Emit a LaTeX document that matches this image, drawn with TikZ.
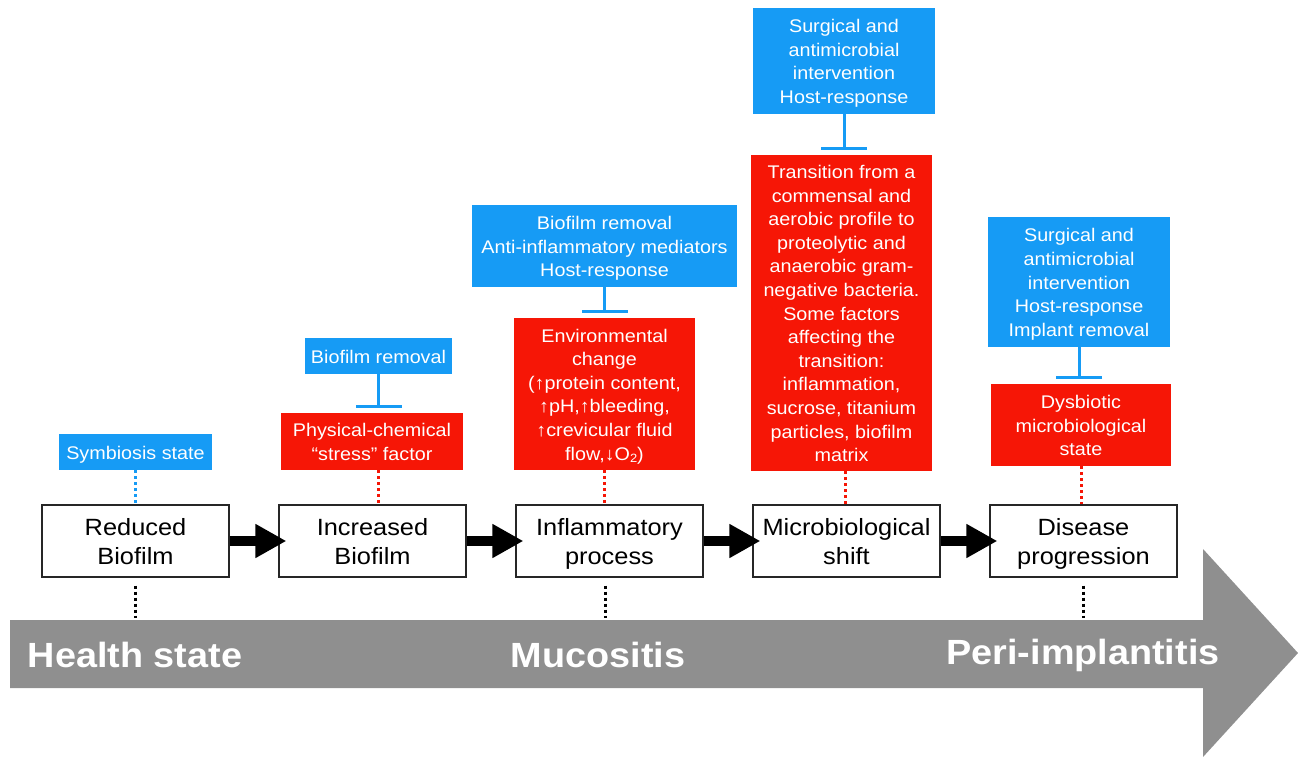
\documentclass[tikz,border=0pt]{standalone}
\usepackage{fontspec}
\setmainfont[FakeStretch=1.08]{Liberation Sans}
\usetikzlibrary{arrows.meta}
\definecolor{cblue}{RGB}{22,155,245}
\definecolor{cred}{RGB}{246,22,6}
\definecolor{cgray}{RGB}{143,143,143}
\newcommand{\firststrut}{\rule{0pt}{1.0em}}
\begin{document}
\begin{tikzpicture}[x=1pt,y=-1pt,
  struts/.style={execute at end node={\rule[-0.22em]{0pt}{0pt}}},
  stagebox/.style={struts, draw=black!85, line width=1.3pt, fill=white, minimum width=187pt, minimum height=72pt, align=center, inner sep=0pt, font=\fontsize{23.5}{28.5}\selectfont},
  bluebox/.style={struts, fill=cblue, text=white, align=center, inner sep=0pt, font=\fontsize{18.3}{23.6}\selectfont},
  redbox/.style={struts, fill=cred, text=white, align=center, inner sep=0pt, font=\fontsize{18.3}{23.6}\selectfont},
  phase/.style={text=white, font=\bfseries\fontsize{35}{40}\selectfont, inner sep=0pt},
  tbar/.style={draw=cblue, line width=3pt, -{Bar[width=46pt]}, shorten >=5pt},
  reddot/.style={draw=cred, line width=3pt, dash pattern=on 3pt off 3pt},
  bluedot/.style={draw=cblue, line width=3pt, dash pattern=on 3pt off 3pt},
  blackdot/.style={draw=black, line width=2.5pt, dash pattern=on 3pt off 3pt, shorten <=8pt, shorten >=2pt},
  bigarrow/.style={line width=10pt, -{Triangle[length=31pt,width=32pt]}, shorten >=-8pt}
]
\useasboundingbox (0,0) rectangle (1298,757);

% big gray timeline arrow
\fill[cgray] (10,620) -- (1203,620) -- (1203,549) -- (1298,653) -- (1203,757) -- (1203,688) -- (10,688) -- cycle;
\coordinate (bandtop) at (0,620);
\node[phase] (ph1) at (135,655) {Health state};
\node[phase] (ph2) at (598,655) {Mucositis};
\node[phase] (ph3) at (1083,655) {Peri-implantitis};

% stage boxes
\node[stagebox] (b1) at (135.5,541) {\firststrut Reduced\\Biofilm};
\node[stagebox] (b2) at (372.5,541) {\firststrut Increased\\Biofilm};
\node[stagebox] (b3) at (609.5,541) {\firststrut Inflammatory\\process};
\node[stagebox] (b4) at (846.5,541) {\firststrut Microbiological\\shift};
\node[stagebox] (b5) at (1083.5,541) {\firststrut Disease\\progression};

\draw[bigarrow] (b1.east) -- (b2.west);
\draw[bigarrow] (b2.east) -- (b3.west);
\draw[bigarrow] (b3.east) -- (b4.west);
\draw[bigarrow] (b4.east) -- (b5.west);

% blue boxes
\node[bluebox, minimum width=153pt, minimum height=36pt] (s1) at (135.5,452) {\firststrut Symbiosis state};
\node[bluebox, minimum width=147pt, minimum height=36pt] (s2) at (378.5,356) {\firststrut Biofilm removal};
\node[bluebox, minimum width=265pt, minimum height=82pt] (s3) at (604.5,246) {\firststrut Biofilm removal\\Anti-inflammatory mediators\\Host-response};
\node[bluebox, minimum width=182pt, minimum height=106pt] (s4) at (844,61) {\firststrut Surgical and\\antimicrobial\\intervention\\Host-response};
\node[bluebox, minimum width=182pt, minimum height=130pt] (s5) at (1079,282) {\firststrut Surgical and\\antimicrobial\\intervention\\Host-response\\Implant removal};

% red boxes
\node[redbox, minimum width=182pt, minimum height=57pt] (r2) at (372,441.5) {\firststrut Physical-chemical\\“stress” factor};
\node[redbox, minimum width=181pt, minimum height=152pt] (r3) at (604.5,394) {\firststrut Environmental\\change\\(↑protein content,\\↑pH,↑bleeding,\\↑crevicular fluid\\flow,↓O\raisebox{-2pt}{\fontsize{12}{12}\selectfont 2})};
\node[redbox, minimum width=181pt, minimum height=316pt] (r4) at (841.5,313) {\firststrut Transition from a\\commensal and\\aerobic profile to\\proteolytic and\\anaerobic gram-\\negative bacteria.\\Some factors\\affecting the\\transition:\\inflammation,\\sucrose, titanium\\particles, biofilm\\matrix};
\node[redbox, minimum width=180pt, minimum height=82pt] (r5) at (1081,425) {\firststrut Dysbiotic\\microbiological\\state};

% inhibition connectors
\draw[tbar] (s2.south) -- (s2.south |- r2.north);
\draw[tbar] (s3.south) -- (s3.south |- r3.north);
\draw[tbar] (s4.south) -- (s4.south |- r4.north);
\draw[tbar] (s5.south) -- (s5.south |- r5.north);

% dotted links to stages
\draw[bluedot] (s1.south) -- (s1.south |- b1.north);
\draw[reddot] ([xshift=6pt]r2.south) -- ([xshift=6pt]r2.south |- b2.north);
\draw[reddot] (r3.south) -- (r3.south |- b3.north);
\draw[reddot] ([xshift=4pt]r4.south) -- ([xshift=4pt]r4.south |- b4.north);
\draw[reddot] (r5.south) -- (r5.south |- b5.north);

% dotted links to phases
\draw[blackdot] (b1.south) -- (b1.south |- bandtop);
\draw[blackdot] ([xshift=-4pt]b3.south) -- ([xshift=-4pt]b3.south |- bandtop);
\draw[blackdot] (b5.south) -- (b5.south |- bandtop);
\end{tikzpicture}
\end{document}
